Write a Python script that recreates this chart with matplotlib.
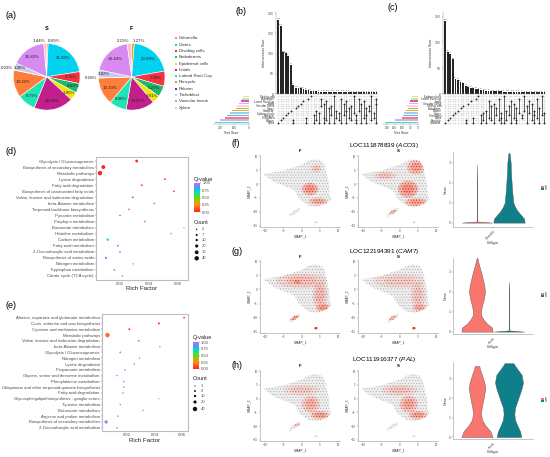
import numpy as np
import matplotlib
matplotlib.use('Agg')
import matplotlib.pyplot as plt
from matplotlib.patches import Polygon, Ellipse, Circle
from matplotlib.path import Path
from matplotlib.colors import LinearSegmentedColormap, Normalize
from matplotlib.cm import ScalarMappable

plt.rcParams['font.family'] = ['Liberation Sans', 'DejaVu Sans']
plt.rcParams['mathtext.fontset'] = 'custom'
plt.rcParams['mathtext.rm'] = 'Liberation Sans'
plt.rcParams['mathtext.it'] = 'Liberation Sans:italic'
plt.rcParams['hatch.linewidth'] = 0.35

W, H = 550, 457

# ---------------- data: (a) pies ----------------
cell_types = ["Columella", "Cortex", "Dividing cells", "Endodermis", "Epidermal cells",
              "Initials", "Lateral Root Cap", "Pericycle", "Phloem", "Trichoblast",
              "Vascular tissue", "Xylem"]
cell_colors = ['#F7A21B', '#00D2F0', '#F5333F', '#1CB86E', '#F2E600', '#C21F8C',
               '#21E3B5', '#FF7F3A', '#5D35C6', '#C9C9EE', '#D98AF2', '#FFBFC7']
s_pct = [0.69, 21.83, 5.75, 4.69, 3.95, 19.20, 8.79, 13.32, 0.23, 3.30, 16.83, 1.44]
f_pct = [1.27, 20.99, 7.38, 5.27, 3.91, 13.87, 8.36, 13.33, 0.18, 3.82, 19.44, 2.19]

# ---------------- data: (b), (c) upset ----------------
set_colors = ['#F5E642', '#B5EBC8', '#C75BC7', '#F7A8D0', '#FAD3E3', '#9ACD32',
              '#F4A142', '#9CCFF2', '#6FB7E8', '#F08080', '#C9B8F0', '#40E0D0']
b_sets = ["Dividing cells", "Endodermis", "Lateral Root Cap", "Initials", "Vascular Tissue",
          "Cortex", "Columella", "Epidermal cells", "Pericycle", "Trichoblast", "Phloem", "Xylem"]
b_set_size = [41, 50, 55, 69, 83, 90, 117, 131, 154, 165, 200, 234]
b_sizes = [183, 168, 103, 101, 94, 72, 22, 16, 15, 14, 12, 10, 9, 8, 7, 7, 6, 6, 6, 6,
           5, 5, 5, 5, 5, 5, 5, 5, 5, 4, 4, 4, 4, 4, 4, 4, 4, 4, 4, 4]
b_members = [[11], [10], [9], [8], [7], [6], [10, 11], [5], [4], [3], [2], [9, 11],
             [1], [0], [8, 11], [6, 10], [7, 11], [1, 4], [3, 9, 11], [2, 10], [5, 11],
             [4, 8], [0, 11], [6, 9], [7, 10], [1, 11], [3, 8], [2, 6, 11], [5, 9],
             [4, 10], [0, 7], [8, 10, 11], [1, 6], [3, 11], [2, 9], [5, 8, 11], [4, 6],
             [0, 10], [7, 9], [1, 3, 11]]

c_sets = ["Epidermal cells", "Lateral Root Cap", "Initials", "Vascular Tissue", "Dividing cells",
          "Endodermis", "Phloem", "Cortex", "Trichoblast", "Xylem", "Pericycle", "Columella"]
c_set_size = [41, 45, 52, 58, 73, 66, 79, 88, 97, 103, 148, 213]
c_sizes = [142, 82, 78, 67, 30, 27, 24, 21, 16, 13, 12, 11, 10, 9, 8, 7, 6, 6, 5, 5,
           5, 5, 5, 4, 4, 4, 4, 4, 4, 4, 4, 3, 3, 3, 3, 3, 3, 3, 3, 3]
c_members = [[11], [10], [9], [8], [7], [6], [5], [4], [10, 11], [3], [2], [9, 11], [1],
             [0], [8, 11], [7, 10], [6, 11], [2, 9], [4, 10], [3, 11], [5, 8], [1, 10],
             [7, 9, 11], [0, 11], [6, 10], [4, 8], [2, 11], [3, 9], [5, 10, 11], [1, 7],
             [8, 9], [0, 6], [4, 11], [2, 7], [3, 10], [6, 8, 11], [1, 9], [5, 11],
             [0, 8], [7, 11]]

# ---------------- data: (d), (e) KEGG dot plots ----------------
d_pathways = ["Glycolysis / Gluconeogenesis", "Biosynthesis of secondary metabolites",
              "Metabolic pathways", "Lysine degradation", "Fatty acid degradation",
              "Biosynthesis of unsaturated fatty acids", "Valine, leucine and isoleucine degradation",
              "beta-Alanine metabolism", "Terpenoid backbone biosynthesis", "Pyruvate metabolism",
              "Porphyrin metabolism", "Butanoate metabolism", "Histidine metabolism",
              "Carbon metabolism", "Fatty acid metabolism", "2-Oxocarboxylic acid metabolism",
              "Biosynthesis of amino acids", "Nitrogen metabolism", "Tryptophan metabolism",
              "Citrate cycle (TCA cycle)"]
d_rich = [0.0315, 0.0085, 0.0062, 0.0510, 0.0350, 0.0572, 0.0288, 0.0437, 0.0262, 0.0200,
          0.0372, 0.0641, 0.0552, 0.0115, 0.0186, 0.0200, 0.0103, 0.0292, 0.0161, 0.0216]
d_q = [0.02, 0.0, 0.0, 0.05, 0.05, 0.05, 0.10, 0.15, 0.15, 0.18,
       0.20, 0.45, 0.68, 0.72, 0.80, 0.97, 0.98, 1.0, 0.97, 0.95]
d_count = [15, 30, 40, 5, 5, 4, 5, 4, 4, 5, 4, 2, 3, 10, 5, 5, 10, 2, 5, 3]
d_count_levels = [2, 7, 10, 20, 30, 40]

e_pathways = ["Alanine, aspartate and glutamate metabolism", "Cutin, suberine and wax biosynthesis",
              "Cysteine and methionine metabolism", "Metabolic pathways",
              "Valine, leucine and isoleucine degradation", "beta-Alanine metabolism",
              "Glycolysis / Gluconeogenesis", "Nitrogen metabolism", "Lysine degradation",
              "Propanoate metabolism", "Glycine, serine and threonine metabolism",
              "Phenylalanine metabolism", "Ubiquinone and other terpenoid-quinone biosynthesis",
              "Fatty acid degradation", "Glycosphingolipid biosynthesis - ganglio series",
              "Tyrosine metabolism", "Butanoate metabolism", "Arginine and proline metabolism",
              "Biosynthesis of secondary metabolites", "2-Oxocarboxylic acid metabolism"]
e_rich = [0.0615, 0.0432, 0.0217, 0.0058, 0.0285, 0.0439, 0.0151, 0.0290, 0.0253, 0.0185,
          0.0127, 0.0176, 0.0176, 0.0171, 0.0432, 0.0151, 0.0317, 0.0134, 0.0048, 0.0127]
e_q = [0.0, 0.02, 0.08, 0.18, 0.20, 0.22, 0.97, 0.98, 0.97, 0.98,
       0.98, 0.98, 0.98, 0.98, 0.92, 0.98, 0.96, 0.98, 0.94, 0.98]
e_count = [4, 6, 6, 40, 5, 3, 5, 3, 3, 3, 3, 3, 3, 3, 1, 3, 2, 3, 20, 3]
e_count_levels = [1, 6, 10, 20, 40]

# ---------------- data: (f)-(h) UMAP outlines and expression regions ----------------
umap_outline = [(-10.5, 3.6), (-7.7, 4.2), (-5, 4.8), (-2.3, 6), (0, 6.9), (1.8, 8.3),
                (3.6, 8.9), (5.5, 8.3), (6.4, 6.5), (6.8, 3.6), (7.5, 0), (7.7, -4.2),
                (8.2, -5.4), (6.8, -7.1), (4.1, -8.3), (1.8, -7.7), (0, -6), (-0.9, -4.8),
                (-1.8, -2.4), (-2.7, -1.8), (-5, -0.6), (-7.3, 0.6), (-9.1, 2.1)]
umap_tail = [(-3.6, -11.3), (-2.7, -10.1), (-1.4, -8.9), (-0.3, -8.6), (-0.5, -9.5),
             (-1.8, -10.7), (-3, -11.7)]
umap_dot = (3.9, -13.7)

# expression regions: (x, y, width, height, strength)
f_F_red = [(2.3, -1.8, 4.5, 4.5, 0.8), (4.5, -6.2, 5, 2.5, 0.6), (4, 5.5, 3, 3, 0.3)]
f_S_red = [(2.3, -1.8, 5.5, 6, 0.9), (4.5, 6, 5, 5, 0.7), (4.5, -6.5, 6, 3, 0.7),
           (-2, -9.8, 3, 2, 0.5), (-4, 3, 6, 3, 0.3)]
g_F_red = [(0, 3, 14, 5, 0.35), (5, -2, 4, 10, 0.4), (6, -6.5, 4, 3, 0.7),
           (-2, -10, 3, 2, 0.8), (-1.2, 2.7, 2, 1.5, 0.8)]
g_S_red = [(0, 3, 14, 5, 0.25), (5, -2, 4, 10, 0.3), (5.5, -6.5, 4, 3, 0.5), (-2, -10, 3, 2, 0.5)]
h_F_red = [(2.5, -2, 5, 6, 0.5), (5, -6, 5, 3, 0.7), (-1, -9.5, 3, 2, 0.3), (0, 3, 10, 4, 0.25)]
h_S_red = [(2.5, -2, 5, 6, 0.6), (5, -6, 5, 3, 0.7), (0, 3, 10, 4, 0.3)]

# violin profiles: expression level and half width
f_F_y = [0, 0.03, 0.06, 1.0, 2.0, 2.9]
f_F_w = [0.19, 0.10, 0.004, 0.003, 0.003, 0.0]
f_S_y = [0, 0.2, 0.4, 0.6, 0.8, 1.0, 1.5, 2.0, 2.5, 3.0, 3.4, 3.5]
f_S_w = [0.196, 0.188, 0.146, 0.104, 0.075, 0.054, 0.042, 0.033, 0.025, 0.021, 0.010, 0.006]
g_F_y = [0, 0.2, 0.4, 0.6, 0.8, 1.0, 1.3, 1.6, 2.0, 2.3, 2.6, 3.0, 3.3, 3.6, 3.7]
g_F_w = [0.196, 0.188, 0.125, 0.083, 0.054, 0.050, 0.062, 0.083, 0.100, 0.092, 0.075,
         0.050, 0.029, 0.010, 0.004]
g_S_y = [0, 0.03, 0.06, 1.0, 2.0, 2.5]
g_S_w = [0.19, 0.10, 0.004, 0.003, 0.003, 0.0]
h_F_y = [0, 0.3, 0.6, 0.9, 1.2, 1.5, 2.0, 2.5, 2.8, 3.2, 3.5, 3.65]
h_F_w = [0.196, 0.167, 0.104, 0.062, 0.050, 0.058, 0.083, 0.104, 0.092, 0.062, 0.035, 0.030]
h_S_y = [0, 0.3, 0.6, 0.9, 1.2, 1.5, 2.0, 2.5, 2.8, 3.2, 3.5, 3.7, 3.8]
h_S_w = [0.154, 0.138, 0.104, 0.075, 0.067, 0.075, 0.117, 0.158, 0.175, 0.158, 0.104,
         0.070, 0.055]

RED, TEAL = '#F8766D', '#0F7F8A'
GREY_TXT = '#4D4D4D'

fig = plt.figure(figsize=(5.5, 4.57), dpi=100)


def px_axes(x0, y0, x1, y1):
    return fig.add_axes([x0 / W, 1 - y1 / H, (x1 - x0) / W, (y1 - y0) / H])


def px_text(x, y, s, **kw):
    fig.text(x / W, 1 - y / H, s, **kw)


# ---------------- (a) ----------------
def draw_pie(cx, cy, r, pct, title):
    ax = px_axes(cx - r, cy - r, cx + r, cy + r)
    ax.pie(pct, colors=cell_colors, startangle=90, counterclock=False,
           wedgeprops=dict(edgecolor='white', linewidth=0.4))
    ax.set_xlim(-1, 1)
    ax.set_ylim(-1, 1)
    start = 90.0
    for i, p in enumerate(pct):
        mid = np.deg2rad(start - p * 1.8)
        start -= p * 3.6
        ha = 'center'
        if p < 0.5:
            dist = 1.22
        elif p < 3:
            dist = 1.08
            ha = 'left' if i == 0 else 'right'
        elif p < 5:
            dist = 0.84
        else:
            dist = 0.74
        ax.text(dist * np.cos(mid), dist * np.sin(mid), f'{p:.2f}%', ha=ha, va='center',
                fontsize=3.2, color='#222222')
    px_text(cx, 29, title, ha='center', va='center', fontsize=4, fontweight='bold')


px_text(5, 15, '(a)', fontsize=6.5, va='center')
draw_pie(46.7, 76.8, 33.3, s_pct, 'S')
draw_pie(131.7, 76.8, 33.3, f_pct, 'F')

lax = px_axes(170, 33, 230, 112)
lax.set_xlim(170, 230)
lax.set_ylim(112, 33)
lax.axis('off')
for i, (name, col) in enumerate(zip(cell_types, cell_colors)):
    y = 38.3 + i * 6.3
    lax.scatter([175.7], [y], marker='s', s=3.2, color=col, linewidths=0)
    lax.text(179, y, name, fontsize=3.2, va='center', color='#333333')


# ---------------- (b), (c) ----------------
def draw_upset(label_xy, bar_box, ytop, yticks, sizes, members, set_box, set_xlim, set_ticks,
               names, set_size, mat_y):
    n = len(sizes)
    xl = (-0.9, n - 0.4)
    ax = px_axes(*bar_box)
    x = np.arange(n)
    ax.bar(x, sizes, width=0.72, color='#262626')
    for xi, v in zip(x, sizes):
        ax.text(xi, v + ytop * 0.008, str(v), fontsize=1.6, ha='center', va='bottom', color='#333333')
    ax.set_xlim(*xl)
    ax.set_ylim(0, ytop)
    ax.set_yticks(yticks)
    ax.set_xticks([])
    ax.tick_params(axis='y', labelsize=2.4, length=1, width=0.3, pad=0.8, colors=GREY_TXT)
    for sp in ['top', 'right']:
        ax.spines[sp].set_visible(False)
    for sp in ['left', 'bottom']:
        ax.spines[sp].set_linewidth(0.3)
        ax.spines[sp].set_color('#888888')
    ax.set_ylabel('Intersection Size', fontsize=2.8, labelpad=1.5, color='#333333')

    mx = px_axes(bar_box[0], mat_y[0], bar_box[2], mat_y[1])
    nr = len(names)
    gx, gy = np.meshgrid(x, np.arange(nr))
    mx.scatter(gx.ravel(), gy.ravel(), s=1.6, color='#DDDDDD', linewidths=0)
    for xi, mem in zip(x, members):
        if len(mem) > 1:
            mx.plot([xi, xi], [min(mem), max(mem)], color='#262626', lw=0.5)
        mx.scatter([xi] * len(mem), mem, s=1.8, color='#262626', linewidths=0, zorder=3)
    mx.set_xlim(*xl)
    mx.set_ylim(nr - 0.4, -0.6)
    mx.set_xticks([])
    mx.set_yticks(range(nr))
    mx.set_yticklabels(names)
    mx.tick_params(axis='y', labelsize=1.9, length=0, pad=1, colors='#333333')
    for sp in mx.spines.values():
        sp.set_visible(False)

    sx = px_axes(set_box[0], mat_y[0], set_box[1], mat_y[1])
    sx.barh(range(nr), set_size, height=0.62, color=set_colors)
    sx.set_xlim(*set_xlim)
    sx.set_ylim(nr - 0.4, -0.6)
    sx.set_yticks([])
    sx.set_xticks(set_ticks)
    sx.tick_params(axis='x', labelsize=2.2, length=1, width=0.3, pad=0.5, colors=GREY_TXT)
    for sp in ['top', 'right', 'left']:
        sx.spines[sp].set_visible(False)
    sx.spines['bottom'].set_linewidth(0.3)
    sx.spines['bottom'].set_color('#888888')
    sx.set_xlabel('Set Size', fontsize=2.8, labelpad=0.6, color='#333333')
    px_text(label_xy[0], label_xy[1], label_xy[2], fontsize=6.5, va='center')


draw_upset((236, 12, '(b)'), (276, 12, 378, 94), 203, [0, 50, 100, 150, 200], b_sizes, b_members,
           (213, 250), (248, -7), [200, 100, 0], b_sets, b_set_size, (95, 124))
draw_upset((388, 8, '(c)'), (443, 12, 546, 94), 159, [0, 50, 100, 150], c_sizes, c_members,
           (383, 419), (226, -6.5), [200, 150, 100, 50, 0], c_sets, c_set_size, (95, 124))

# ---------------- (d), (e) ----------------
q_cmap = LinearSegmentedColormap.from_list(
    'q', [(0, '#FF2020'), (0.25, '#FF8C1A'), (0.5, '#66DD00'), (0.7, '#00E0C0'),
          (0.85, '#40A0FF'), (1.0, '#CC66FF')])
q_norm = Normalize(0, 1)


def count_size(c):
    return 0.5 + 0.24 * np.asarray(c, dtype=float)


def draw_dot(label, label_y, box, names, rich, q, count, xlim, rf_y, cbar_box, qtitle_y,
             count_title_y, levels, level_y, mark_x, lab_x):
    ax = px_axes(*box)
    n = len(names)
    y = np.arange(n)[::-1]
    ax.scatter(rich, y, s=count_size(count), c=q, cmap=q_cmap, norm=q_norm, linewidths=0, zorder=3)
    ax.set_xlim(*xlim)
    ax.set_ylim(-0.6, n - 0.4)
    ax.set_yticks(y)
    ax.set_yticklabels(names)
    ax.set_xticks([0.02, 0.04, 0.06])
    ax.set_xticklabels(['0.02', '0.04', '0.06'])
    ax.tick_params(labelsize=3.1, length=1, width=0.3, pad=0.6, colors=GREY_TXT)
    for sp in ax.spines.values():
        sp.set_color('#BDBDBD')
        sp.set_linewidth(0.8)
    px_text((box[0] + box[2]) / 2, rf_y, 'Rich Factor', fontsize=4.4, ha='center', va='center',
            color='#222222')

    cax = px_axes(*cbar_box)
    cb = fig.colorbar(ScalarMappable(norm=q_norm, cmap=q_cmap), cax=cax)
    cb.set_ticks([0, 0.25, 0.5, 0.75, 1.0])
    cb.set_ticklabels(['0.00', '0.25', '0.50', '0.75', '1.00'])
    cb.outline.set_visible(False)
    cax.tick_params(labelsize=3, length=0.8, width=0.3, pad=0.8, colors=GREY_TXT)
    px_text(cbar_box[0], qtitle_y, 'Q-value', fontsize=4, va='center', color='#222222')

    px_text(cbar_box[0], count_title_y, 'Count', fontsize=4, va='center', color='#222222')
    kax = px_axes(cbar_box[0] - 2, level_y[0] - 3, cbar_box[0] + 20, level_y[-1] + 3)
    kax.set_xlim(cbar_box[0] - 2, cbar_box[0] + 20)
    kax.set_ylim(level_y[-1] + 3, level_y[0] - 3)
    kax.axis('off')
    kax.scatter([mark_x] * len(levels), level_y, s=count_size(levels), color='#111111', linewidths=0)
    for lv, ly in zip(levels, level_y):
        kax.text(lab_x, ly, str(lv), fontsize=3, va='center', color=GREY_TXT)
    px_text(5, label_y, label, fontsize=6.5, va='center')


draw_dot('(d)', 152, (96, 157.4, 188, 279.6), d_pathways, d_rich, d_q, d_count, (0.00345, 0.0669),
         288.5, (194, 183, 200, 212), 179, 222, d_count_levels,
         [229.3, 235, 240, 246, 252.3, 258.3], 196.7, 202)
draw_dot('(e)', 306, (102, 314.2, 188, 431.2), e_pathways, e_rich, e_q, e_count, (0.00182, 0.06436),
         440.5, (192.5, 342, 198.5, 369), 338, 379, e_count_levels,
         [386, 391, 396, 402, 409], 195, 201)


# ---------------- (f)-(h) ----------------
def draw_umap(box, title, title_y, red_regions, dot_red):
    ax = px_axes(*box)
    ax.set_xlim(-11.4, 10.5)
    ax.set_ylim(-15.4, 10.4)
    shapes = [Polygon(umap_outline, closed=True), Polygon(umap_tail, closed=True),
              Circle(umap_dot, 0.45)]
    for shp in shapes:
        shp.set_facecolor('#EEEEEE')
        shp.set_edgecolor('#A8A8A8')
        shp.set_hatch('......')
        shp.set_linewidth(0)
        ax.add_patch(shp)
    body = Path.make_compound_path(Path(umap_outline + [umap_outline[0]], closed=True),
                                   Path(umap_tail + [umap_tail[0]], closed=True))
    for (ex, ey, ew, eh, st) in red_regions:
        for elw, elh, a in [(ew, eh, st), (ew * 0.6, eh * 0.6, min(1, st * 1.2))]:
            e = Ellipse((ex, ey), elw, elh, facecolor=(0.96, 0.45, 0.38, a * 0.45),
                        edgecolor=(0.92, 0.22, 0.12, a), hatch='......', linewidth=0)
            ax.add_patch(e)
            e.set_clip_path(body, ax.transData)
    if dot_red:
        ax.add_patch(Circle(umap_dot, 0.45, color='#E8442C', lw=0))
    ax.set_xticks([-10, -5, 0, 5, 10])
    ax.set_yticks([10, 5, 0, -5, -10, -15])
    ax.tick_params(labelsize=2.2, length=1, width=0.3, pad=0.6, colors=GREY_TXT)
    for sp in ['top', 'right']:
        ax.spines[sp].set_visible(False)
    for sp in ['left', 'bottom']:
        ax.spines[sp].set_linewidth(0.4)
        ax.spines[sp].set_color('#999999')
    ax.set_xlabel('UMAP_1', fontsize=2.4, labelpad=0.8, color='#333333')
    ax.set_ylabel('UMAP_2', fontsize=2.4, labelpad=0.8, color='#333333')
    px_text((box[0] + box[2]) / 2, title_y, title, fontsize=3.2, fontweight='bold', ha='center',
            va='center')


def draw_violin(box, ylim, yticks, profiles, xlab, leg_y):
    ax = px_axes(*box)
    for cx, ys, ws, col in profiles:
        ys = np.asarray(ys)
        ws = np.asarray(ws)
        ax.fill_betweenx(ys, cx - ws, cx + ws, facecolor=col, edgecolor='#555555', linewidth=0.3)
    ax.set_xlim(0.5, 1.5)
    ax.set_ylim(*ylim)
    ax.set_yticks(yticks)
    ax.set_xticks([1])
    ax.set_xticklabels([xlab], rotation=45, ha='right', rotation_mode='anchor')
    ax.tick_params(axis='y', labelsize=2.4, length=1, width=0.3, pad=0.6, colors=GREY_TXT)
    ax.tick_params(axis='x', labelsize=2.0, length=1, width=0.3, pad=0.6, colors=GREY_TXT)
    for sp in ['top', 'right']:
        ax.spines[sp].set_visible(False)
    for sp in ['left', 'bottom']:
        ax.spines[sp].set_linewidth(0.4)
        ax.spines[sp].set_color('#999999')
    ax.set_xlabel('Celltype', fontsize=2.4, labelpad=0.5, color='#333333')
    ax.set_ylabel('Gene', fontsize=2.6, labelpad=0.8, color='#333333')
    gax = px_axes(539, leg_y - 4, 550, leg_y + 4)
    gax.set_xlim(539, 550)
    gax.set_ylim(leg_y + 4, leg_y - 4)
    gax.axis('off')
    gax.scatter([542.5, 542.5], [leg_y - 1.4, leg_y + 1.4], marker='s', s=2.2,
                color=[RED, TEAL], linewidths=0)
    gax.text(545, leg_y - 1.4, 'F', fontsize=2, va='center')
    gax.text(545, leg_y + 1.4, 'S', fontsize=2, va='center')


rows = [
    ('(f)', 144, 'LOC111878839 ($\\mathit{ACO3}$)', 145, (155, 227), 151.5, f_F_red, f_S_red, False,
     (152, 227), (-0.22, 3.55), [0, 1, 2, 3],
     [(0.8, f_F_y, f_F_w, RED), (1.2, f_S_y, f_S_w, TEAL)], 'Columella', 188),
    ('(g)', 252, 'LOC122194391 ($\\mathit{CAM7}$)', 251.5, (260, 333), 256.5, g_F_red, g_S_red, True,
     (258, 334), (-0.12, 3.7), [0, 1, 2, 3],
     [(0.8, g_F_y, g_F_w, RED), (1.2, g_S_y, g_S_w, TEAL)], 'Initials', 295),
    ('(h)', 366, 'LOC111916377 ($\\mathit{PAL}$)', 359.5, (370, 441), 366, h_F_red, h_S_red, False,
     (362, 439), (-0.1, 3.86), [0, 1, 2, 3],
     [(0.8, h_F_y, h_F_w, RED), (1.2, h_S_y, h_S_w, TEAL)], 'Initials', 400),
]
for (lab, lab_y, title, title_y, uy, ut_y, red_f, red_s, dot_red, vbox, vylim, vticks, prof,
     xlab, leg_y) in rows:
    px_text(232, lab_y, lab, fontsize=6.5, va='center')
    px_text(384, title_y, title, fontsize=4.6, ha='center', va='center')
    draw_umap((260, uy[0], 340, uy[1]), 'F', ut_y, red_f, dot_red)
    draw_umap((358, uy[0], 438, uy[1]), 'S', ut_y, red_s, dot_red)
    draw_violin((453, vbox[0], 533, vbox[1]), vylim, vticks, prof, xlab, leg_y)

fig.savefig('out.png', dpi=100)
